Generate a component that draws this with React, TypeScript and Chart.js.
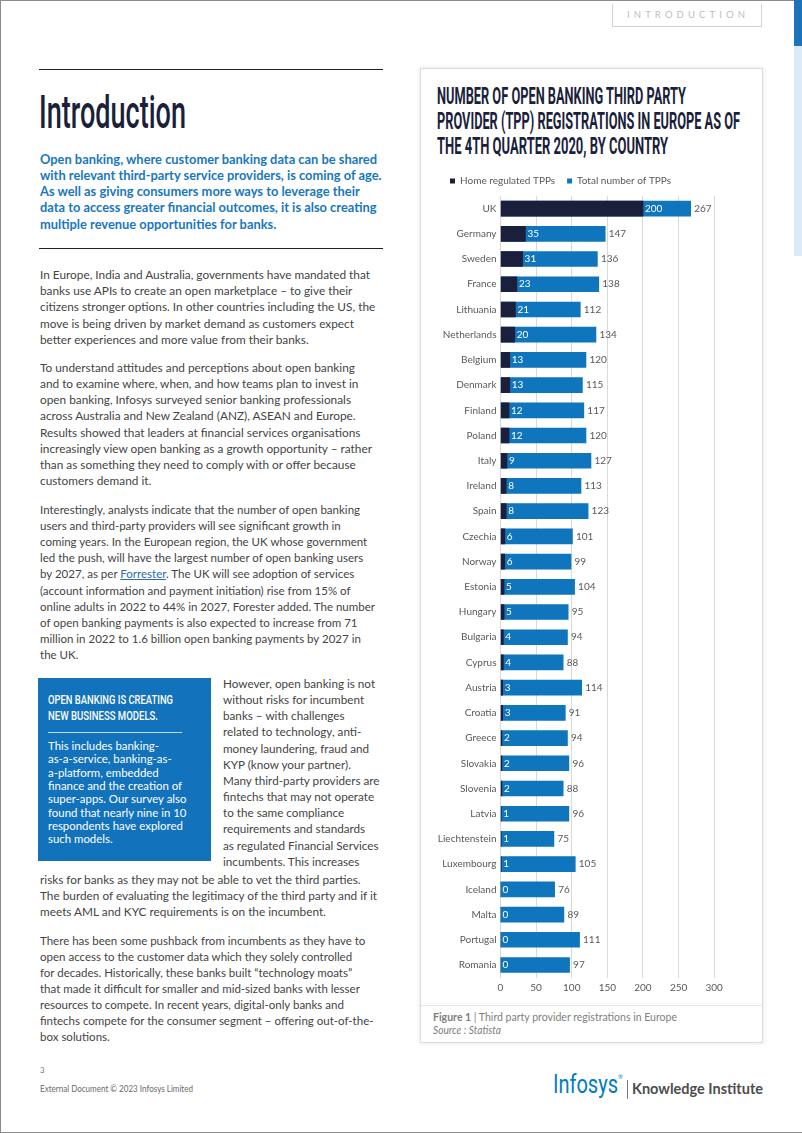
import React, { useEffect, useLayoutEffect, useRef, useState } from 'react';
import { Chart, registerables } from 'chart.js';

Chart.register(...registerables);

// ---------------- DATA ----------------
const categories = [
  'UK', 'Germany', 'Sweden', 'France', 'Lithuania', 'Netherlands', 'Belgium', 'Denmark',
  'Finland', 'Poland', 'Italy', 'Ireland', 'Spain', 'Czechia', 'Norway', 'Estonia',
  'Hungary', 'Bulgaria', 'Cyprus', 'Austria', 'Croatia', 'Greece', 'Slovakia', 'Slovenia',
  'Latvia', 'Liechtenstein', 'Luxembourg', 'Iceland', 'Malta', 'Portugal', 'Romania',
];
const homeRegulated = [200, 35, 31, 23, 21, 20, 13, 13, 12, 12, 9, 8, 8, 6, 6, 5, 5, 4, 4, 3, 3, 2, 2, 2, 1, 1, 1, 0, 0, 0, 0];
const totalTPPs = [267, 147, 136, 138, 112, 134, 120, 115, 117, 120, 127, 113, 123, 101, 99, 104, 95, 94, 88, 114, 91, 94, 96, 88, 96, 75, 105, 76, 89, 111, 97];
const xTicks = [0, 50, 100, 150, 200, 250, 300];
const seriesNames = ['Home regulated TPPs', 'Total number of TPPs'];

const chartTitleLines = [
  'NUMBER OF OPEN BANKING THIRD PARTY',
  'PROVIDER (TPP) REGISTRATIONS IN EUROPE AS OF',
  'THE 4TH QUARTER 2020, BY COUNTRY',
];
const captionLines = ['**Figure 1** | Third party provider registrations in Europe'];
const sourceLines = ['Source : Statista'];

const leadLines = [
  'Open banking, where customer banking data can be shared',
  'with relevant third-party service providers, is coming of age.',
  'As well as giving consumers more ways to leverage their',
  'data to access greater financial outcomes, it is also creating',
  'multiple revenue opportunities for banks.',
];
const para1 = [
  'In Europe, India and Australia, governments have mandated that',
  'banks use APIs to create an open marketplace – to give their',
  'citizens stronger options. In other countries including the US, the',
  'move is being driven by market demand as customers expect',
  'better experiences and more value from their banks.',
];
const para2 = [
  'To understand attitudes and perceptions about open banking',
  'and to examine where, when, and how teams plan to invest in',
  'open banking, Infosys surveyed senior banking professionals',
  'across Australia and New Zealand (ANZ), ASEAN and Europe.',
  'Results showed that leaders at financial services organisations',
  'increasingly view open banking as a growth opportunity – rather',
  'than as something they need to comply with or offer because',
  'customers demand it.',
];
const para3 = [
  'Interestingly, analysts indicate that the number of open banking',
  'users and third-party providers will see significant growth in',
  'coming years. In the European region, the UK whose government',
  'led the push, will have the largest number of open banking users',
  'by 2027, as per [[Forrester]]. The UK will see adoption of services',
  '(account information and payment initiation) rise from 15% of',
  'online adults in 2022 to 44% in 2027, Forester added. The number',
  'of open banking payments is also expected to increase from 71',
  'million in 2022 to 1.6 billion open banking payments by 2027 in',
  'the UK.',
];
const para4a = [
  'However, open banking is not',
  'without risks for incumbent',
  'banks – with challenges',
  'related to technology, anti-',
  'money laundering, fraud and',
  'KYP (know your partner).',
  'Many third-party providers are',
  'fintechs that may not operate',
  'to the same compliance',
  'requirements and standards',
  'as regulated Financial Services',
  'incumbents. This increases',
];
const para4b = [
  'risks for banks as they may not be able to vet the third parties.',
  'The burden of evaluating the legitimacy of the third party and if it',
  'meets AML and KYC requirements is on the incumbent.',
];
const para5 = [
  'There has been some pushback from incumbents as they have to',
  'open access to the customer data which they solely controlled',
  'for decades. Historically, these banks built “technology moats”',
  'that made it difficult for smaller and mid-sized banks with lesser',
  'resources to compete. In recent years, digital-only banks and',
  'fintechs compete for the consumer segment – offering out-of-the-',
  'box solutions.',
];
const calloutTitle = ['OPEN BANKING IS CREATING', 'NEW BUSINESS MODELS.'];
const calloutLines = [
  'This includes banking-',
  'as-a-service, banking-as-',
  'a-platform, embedded',
  'finance and the creation of',
  'super-apps. Our survey also',
  'found that nearly nine in 10',
  'respondents have explored',
  'such models.',
];

// ---------------- STYLE ----------------
const BLUE = '#0f75bd';
const NAVY = '#1b1f3b';
const GRAY = '#595959';
const TEXT = '#444444';

function renderSegments(s: string) {
  const parts = s.split(/(\*\*[^*]+\*\*|\[\[[^\]]+\]\])/);
  return parts.map((p, i) => {
    if (p.startsWith('**')) return <b key={i}>{p.slice(2, -2)}</b>;
    if (p.startsWith('[[')) return <span key={i} style={{ color: '#2b6cb0', textDecoration: 'underline' }}>{p.slice(2, -2)}</span>;
    return <React.Fragment key={i}>{p}</React.Fragment>;
  });
}

type ParaProps = {
  lines: string[]; x: number; y: number; lh: number; size: number; color: string;
  refLine?: number; refWidth: number; family?: string; weight?: number; italic?: boolean; shift?: number;
};

function Para({ lines, x, y, lh, size, color, refLine = 0, refWidth, family = 'Lato', weight = 400, italic = false, shift }: ParaProps) {
  const ref = useRef<HTMLSpanElement>(null);
  const [k, setK] = useState(1);
  useLayoutEffect(() => {
    if (ref.current) {
      const w = ref.current.getBoundingClientRect().width;
      if (w > 0) setK(refWidth / w);
    }
  }, []);
  const sh = shift === undefined ? 0.09 * size : shift;
  return (
    <div style={{
      position: 'absolute', left: x, top: y - lh / 2 - sh, transform: `scaleX(${k})`, transformOrigin: '0 0',
      fontFamily: family, fontSize: size, fontWeight: weight, fontStyle: italic ? 'italic' : 'normal', color,
      lineHeight: lh + 'px', whiteSpace: 'pre',
    }}>
      {lines.map((l, i) => (
        <div key={i} style={{ height: lh }}>
          <span ref={i === refLine ? ref : undefined}>{renderSegments(l)}</span>
        </div>
      ))}
    </div>
  );
}

const valueLabels = {
  id: 'valueLabels',
  afterDatasetsDraw(chart: any) {
    const ctx = chart.ctx;
    const homeMeta = chart.getDatasetMeta(0);
    const totalMeta = chart.getDatasetMeta(1);
    ctx.save();
    ctx.font = '10px Lato';
    ctx.textBaseline = 'middle';
    ctx.textAlign = 'left';
    homeMeta.data.forEach((bar: any, i: number) => {
      ctx.fillStyle = '#ffffff';
      ctx.fillText(String(homeRegulated[i]), bar.x + 2, bar.y);
    });
    totalMeta.data.forEach((bar: any, i: number) => {
      ctx.fillStyle = GRAY;
      ctx.fillText(String(totalTPPs[i]), bar.x + 3.5, bar.y);
    });
    ctx.restore();
  },
};

function BarChart() {
  const ref = useRef<HTMLCanvasElement>(null);
  useEffect(() => {
    const chart = new Chart(ref.current as HTMLCanvasElement, {
      type: 'bar',
      data: {
        labels: categories,
        datasets: [
          { label: seriesNames[0], data: homeRegulated, backgroundColor: NAVY, borderWidth: 0, order: 0, grouped: false, barThickness: 15 } as any,
          { label: seriesNames[1], data: totalTPPs, backgroundColor: BLUE, borderWidth: 0, order: 1, grouped: false, barThickness: 15 } as any,
        ],
      },
      options: {
        indexAxis: 'y',
        responsive: false,
        animation: false,
        devicePixelRatio: 1,
        layout: { padding: { top: 0, right: 23.8, bottom: 6.4, left: 0 } },
        plugins: {
          legend: {
            position: 'top', align: 'start',
            labels: { boxWidth: 5, boxHeight: 5, padding: 12, color: GRAY, font: { family: 'Lato', size: 10 } },
          },
          tooltip: { enabled: false },
        },
        scales: {
          x: {
            min: 0, max: 300,
            afterBuildTicks: (s: any) => { s.ticks = xTicks.map((v) => ({ value: v })); },
            ticks: { color: GRAY, font: { family: 'Lato', size: 10 }, padding: 4 },
            grid: { color: '#d9d9d9', drawTicks: false },
            border: { display: false },
            afterFit: (s: any) => { s.height = 20; },
          },
          y: {
            ticks: { color: GRAY, font: { family: 'Lato', size: 10 }, padding: 4, autoSkip: false },
            grid: { display: false, drawTicks: false },
            border: { display: false },
            afterFit: (s: any) => { s.width = 62.5; },
          },
        },
      } as any,
      plugins: [valueLabels],
    });
    return () => chart.destroy();
  }, []);
  return <canvas ref={ref} width={300} height={840} style={{ position: 'absolute', left: 438, top: 164, width: 300, height: 840 }} />;
}

function Letters({ text, x, y, w, size, color }: { text: string; x: number; y: number; w: number; size: number; color: string }) {
  return (
    <div style={{ position: 'absolute', left: x, top: y - 7, width: w, height: 14, lineHeight: '14px', display: 'flex', justifyContent: 'space-between', fontFamily: 'Lato', fontSize: size, color }}>
      {text.split('').map((c, i) => <span key={i}>{c}</span>)}
    </div>
  );
}

export default function App() {
  const abs = (s: React.CSSProperties): React.CSSProperties => ({ position: 'absolute', ...s });
  return (
    <div style={{ position: 'absolute', left: 0, top: 0, width: 802, height: 1133, background: '#fff', overflow: 'hidden', fontFamily: 'Lato' }}>
      {/* page frame */}
      <div style={abs({ left: 0, top: 0, width: 802, height: 1133, boxSizing: 'border-box', borderTop: '1px solid #8c8c8c', borderLeft: '1px solid #8c8c8c', borderBottom: '1px solid #8c8c8c' })} />
      <div style={abs({ left: 794, top: 0, width: 8, height: 46, background: '#1d73b9' })} />
      <div style={abs({ left: 794, top: 46, width: 8, height: 210, background: '#dbeaf6' })} />

      {/* section tab */}
      <div style={abs({ left: 612, top: 4, width: 150, height: 23, boxSizing: 'border-box', border: '1px solid #d2d2d2', borderTop: 'none' })} />
      <Letters text="INTRODUCTION" x={627} y={15} w={118} size={9.5} color="#bdbdbd" />

      {/* heading block */}
      <div style={abs({ left: 39, top: 68.5, width: 344, height: 1.5, background: NAVY })} />
      <Para lines={['Introduction']} x={39} y={111.5} lh={50} size={46} color={NAVY} refWidth={147} family="Roboto" weight={500} shift={0} />
      <Para lines={leadLines} x={40} y={160} lh={16.25} size={13} color="#1878be" refWidth={337} weight={700} />
      <div style={abs({ left: 39, top: 247.5, width: 344, height: 1.5, background: NAVY })} />

      <Para lines={para1} x={40} y={276} lh={16.3} size={12} color={TEXT} refWidth={330} />
      <Para lines={para2} x={40} y={369} lh={16.2} size={12} color={TEXT} refLine={5} refWidth={332} />
      <Para lines={para3} x={40} y={510.7} lh={16.22} size={12} color={TEXT} refLine={6} refWidth={335} />

      {/* callout */}
      <div style={abs({ left: 38, top: 678, width: 173, height: 183, background: '#1272bb' })} />
      <Para lines={[calloutTitle[0]]} x={48} y={699.5} lh={16} size={13} color="#ffffff" refWidth={125} family="Roboto" weight={500} shift={0} />
      <Para lines={[calloutTitle[1]]} x={48} y={715.5} lh={16} size={13} color="#ffffff" refWidth={110} family="Roboto" weight={500} shift={0} />
      <div style={abs({ left: 48, top: 732, width: 134, height: 1, background: 'rgba(255,255,255,0.75)' })} />
      <Para lines={calloutLines} x={48} y={746.7} lh={13.33} size={12} color="#ffffff" refLine={3} refWidth={134} />

      <Para lines={para4a} x={222.5} y={685} lh={16.18} size={12} color={TEXT} refLine={10} refWidth={155.5} />
      <Para lines={para4b} x={40} y={881} lh={16} size={12} color={TEXT} refLine={1} refWidth={337} />
      <Para lines={para5} x={40} y={941.7} lh={16.1} size={12} color={TEXT} refLine={5} refWidth={333.5} />

      {/* footer */}
      <Para lines={['3']} x={40} y={1071} lh={10} size={8} color="#777" refWidth={4.5} />
      <Para lines={['External Document © 2023 Infosys Limited']} x={40} y={1090} lh={12} size={9} color="#6a6a6a" refWidth={153} />
      <Para lines={['Infosys']} x={553} y={1085} lh={30} size={25} color="#007cc3" refWidth={65} family="Roboto" weight={400} shift={0} />
      <div style={abs({ left: 618, top: 1073, fontSize: 6, lineHeight: '8px', color: '#007cc3', fontFamily: 'Lato' })}>®</div>
      <div style={abs({ left: 626.5, top: 1080, width: 1, height: 19, background: '#777' })} />
      <Para lines={['Knowledge Institute']} x={632} y={1090} lh={18} size={14.5} color="#4d4d4d" refWidth={131} weight={700} />

      {/* chart card */}
      <div style={abs({ left: 420, top: 68, width: 343, height: 975, boxSizing: 'border-box', border: '1px solid #dcdcdc', background: '#fff', boxShadow: '0 0 5px rgba(0,0,0,0.12)' })} />
      <div style={abs({ left: 421, top: 1005, width: 341, height: 1, background: '#e8e8e8', boxShadow: '0 -1px 3px rgba(0,0,0,0.08)' })} />
      <Para lines={[chartTitleLines[0]]} x={437} y={97} lh={26} size={23} color={NAVY} refWidth={249} family="Roboto" weight={700} shift={0} />
      <Para lines={[chartTitleLines[1]]} x={437} y={121.5} lh={26} size={23} color={NAVY} refWidth={303} family="Roboto" weight={700} shift={0} />
      <Para lines={[chartTitleLines[2]]} x={437} y={146.5} lh={26} size={23} color={NAVY} refWidth={231} family="Roboto" weight={700} shift={0} />
      <BarChart />
      <Para lines={captionLines} x={433} y={1018} lh={13} size={10.5} color="#808080" refWidth={244} />
      <Para lines={sourceLines} x={433} y={1031} lh={13} size={10.5} color="#808080" refWidth={68} italic />
    </div>
  );
}
